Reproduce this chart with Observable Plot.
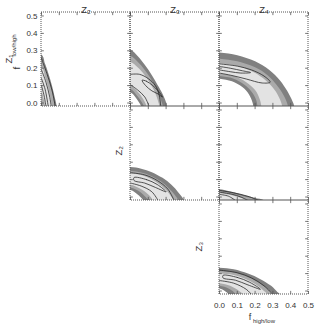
<!DOCTYPE html>
<html><head><meta charset="utf-8">
<script src="https://cdn.jsdelivr.net/npm/d3@7"></script>
<script src="https://cdn.jsdelivr.net/npm/@observablehq/plot@0.6"></script>
<style>body{margin:0;background:#fff}</style>
</head><body><div id="chart"></div>
<script>
// ---- axes / panels ----
const cols = ["Z2","Z3","Z4"];
const rows = ["Z1","Z2","Z3"];
const colTitles = ["Z₂","Z₃","Z₄"];
const xDom = [0, 0.5];
const yDom = [-0.02, 0.52];
const tickVals = [0, 0.1, 0.2, 0.3, 0.4, 0.5];
const tickLabels = ["0.0","0.1","0.2","0.3","0.4","0.5"];
const panels = [["Z2","Z1"],["Z3","Z1"],["Z4","Z1"],["Z3","Z2"],["Z4","Z2"],["Z4","Z3"]];
const bandColors = ["#808080","#aaaaaa","#e3e3e3","#aaaaaa","#808080","#ffffff"];

// ---- contour boundaries (x, y) ----
// panel Z2 x Z1
const A_dark   = [[0,0.278],[0.02,0.225],[0.04,0.165],[0.06,0.095],[0.075,0.03],[0.085,-0.02]];
const A_med    = [[0,0.25],[0.02,0.2],[0.04,0.14],[0.055,0.08],[0.068,0.02],[0.075,-0.02]];
const A_light  = [[0,0.205],[0.02,0.15],[0.04,0.08],[0.05,0.03],[0.058,-0.02]];
const A_lightIn= [[0,0.06],[0.01,0.03],[0.02,-0.02]];
// panel Z3 x Z1
const B_dark   = [[0,0.304],[0.04,0.27],[0.08,0.22],[0.12,0.16],[0.16,0.09],[0.19,0.03],[0.205,-0.02]];
const B_med    = [[0,0.27],[0.04,0.237],[0.08,0.19],[0.12,0.13],[0.15,0.07],[0.172,0.015],[0.182,-0.02]];
const B_light  = [[0,0.235],[0.04,0.205],[0.08,0.16],[0.11,0.115],[0.14,0.055],[0.155,0.01],[0.162,-0.02]];
const B_lightIn= [[0,0.1],[0.04,0.065],[0.07,0.025],[0.09,-0.02]];
const B_medIn  = [[0,0.08],[0.035,0.045],[0.06,0.01],[0.075,-0.02]];
const B_darkIn = [[0,0.06],[0.03,0.03],[0.05,0.0],[0.06,-0.02]];
// panel Z4 x Z1
const C_dark   = [[0,0.29],[0.1,0.275],[0.2,0.24],[0.28,0.19],[0.34,0.13],[0.38,0.07],[0.41,0.01],[0.42,-0.02]];
const C_med    = [[0,0.255],[0.1,0.24],[0.2,0.205],[0.27,0.16],[0.32,0.105],[0.36,0.045],[0.385,-0.02]];
const C_light  = [[0,0.228],[0.1,0.213],[0.19,0.178],[0.26,0.13],[0.31,0.075],[0.34,0.02],[0.352,-0.02]];
const C_lightIn= [[0,0.17],[0.08,0.155],[0.15,0.12],[0.2,0.075],[0.225,0.025],[0.235,-0.02]];
const C_medIn  = [[0,0.155],[0.08,0.14],[0.14,0.105],[0.18,0.065],[0.205,0.02],[0.213,-0.02]];
const C_darkIn = [[0,0.14],[0.07,0.125],[0.13,0.09],[0.165,0.05],[0.185,0.005],[0.19,-0.02]];
// panel Z3 x Z2
const D_dark   = [[0,0.172],[0.06,0.163],[0.12,0.143],[0.18,0.11],[0.23,0.07],[0.27,0.025],[0.3,-0.02]];
const D_med    = [[0,0.15],[0.06,0.141],[0.12,0.12],[0.17,0.09],[0.215,0.05],[0.25,0.01],[0.268,-0.02]];
const D_light  = [[0,0.135],[0.06,0.126],[0.11,0.107],[0.16,0.075],[0.2,0.04],[0.23,0.0],[0.243,-0.02]];
const D_lightIn= [[0,0.07],[0.05,0.05],[0.1,0.015],[0.125,-0.02]];
const D_medIn  = [[0,0.055],[0.05,0.032],[0.085,0.0],[0.1,-0.02]];
const D_darkIn = [[0,0.04],[0.04,0.015],[0.065,-0.01],[0.072,-0.02]];
// panel Z4 x Z2
const E_dark   = [[0,0.045],[0.05,0.035],[0.1,0.022],[0.15,0.008],[0.2,-0.005],[0.25,-0.02]];
const E_med    = [[0,0.035],[0.05,0.026],[0.1,0.013],[0.15,0.0],[0.21,-0.02]];
const E_light  = [[0,0.022],[0.05,0.014],[0.1,0.002],[0.15,-0.02]];
// panel Z4 x Z3
const F_dark   = [[0,0.134],[0.08,0.125],[0.16,0.1],[0.23,0.068],[0.29,0.03],[0.325,-0.005],[0.34,-0.02]];
const F_med    = [[0,0.115],[0.08,0.107],[0.15,0.085],[0.21,0.055],[0.26,0.02],[0.295,-0.01],[0.305,-0.02]];
const F_light  = [[0,0.1],[0.08,0.092],[0.14,0.072],[0.2,0.04],[0.245,0.005],[0.27,-0.02]];
const F_lightIn= [[0,0.045],[0.06,0.03],[0.11,0.0],[0.13,-0.02]];
const F_medIn  = [[0,0.03],[0.05,0.015],[0.08,-0.005],[0.09,-0.02]];
const F_darkIn = [[0,0.015],[0.03,0.0],[0.05,-0.02]];

// contour lines
const A_l1 = [[0,0.255],[0.03,0.17],[0.06,0.07],[0.077,-0.02]];
const A_l2 = [[0,0.19],[0.025,0.12],[0.045,0.04],[0.055,-0.02]];
const A_l3 = [[0,0.14],[0.02,0.08],[0.038,-0.02]];
const A_l4 = [[0,0.1],[0.015,0.04],[0.025,-0.02]];
const B_loop = [[0.065,0.131],[0.09,0.125],[0.125,0.1],[0.155,0.07],[0.18,0.034],[0.155,0.052],[0.12,0.07],[0.085,0.1]];
const B_l1 = [[0,0.165],[0.05,0.165],[0.1,0.14],[0.14,0.1],[0.16,0.05],[0.17,-0.02]];
const B_l2 = [[0,0.105],[0.04,0.075],[0.08,0.035],[0.105,-0.02]];
const C_l1 = [[0,0.225],[0.1,0.212],[0.18,0.19],[0.25,0.155],[0.285,0.12],[0.24,0.115],[0.15,0.138],[0.07,0.158],[0,0.172]];
const C_l2 = [[0,0.21],[0.06,0.2],[0.13,0.185],[0.175,0.175],[0.12,0.172],[0.06,0.18],[0,0.19]];
const D_l1 = [[0,0.14],[0.08,0.127],[0.15,0.095],[0.21,0.045],[0.245,-0.02]];
const D_loop = [[0.02,0.112],[0.09,0.1],[0.15,0.072],[0.2,0.03],[0.14,0.055],[0.08,0.08],[0.02,0.095]];
const D_l2 = [[0,0.08],[0.06,0.063],[0.12,0.03],[0.155,-0.02]];
const E_l1 = [[0,0.038],[0.08,0.024],[0.16,0.004],[0.22,-0.02]];
const E_l2 = [[0,0.028],[0.07,0.016],[0.12,0.0],[0.16,-0.02]];
const E_l3 = [[0,0.015],[0.05,0.005],[0.09,-0.02]];
const F_l1 = [[0,0.12],[0.1,0.105],[0.18,0.075],[0.25,0.03],[0.3,-0.02]];
const F_loop = [[0.02,0.09],[0.1,0.078],[0.17,0.05],[0.23,0.01],[0.16,0.035],[0.09,0.062],[0.02,0.075]];
const F_l2 = [[0,0.06],[0.08,0.045],[0.15,0.01],[0.18,-0.02]];

// ---- tables built from the arrays ----
const fillLayers = [
  ["Z2","Z1",0,A_dark],["Z2","Z1",1,A_med],["Z2","Z1",2,A_light],["Z2","Z1",3,A_lightIn],
  ["Z3","Z1",0,B_dark],["Z3","Z1",1,B_med],["Z3","Z1",2,B_light],["Z3","Z1",3,B_lightIn],["Z3","Z1",4,B_medIn],["Z3","Z1",5,B_darkIn],
  ["Z4","Z1",0,C_dark],["Z4","Z1",1,C_med],["Z4","Z1",2,C_light],["Z4","Z1",3,C_lightIn],["Z4","Z1",4,C_medIn],["Z4","Z1",5,C_darkIn],
  ["Z3","Z2",0,D_dark],["Z3","Z2",1,D_med],["Z3","Z2",2,D_light],["Z3","Z2",3,D_lightIn],["Z3","Z2",4,D_medIn],["Z3","Z2",5,D_darkIn],
  ["Z4","Z2",0,E_dark],["Z4","Z2",1,E_med],["Z4","Z2",2,E_light],
  ["Z4","Z3",0,F_dark],["Z4","Z3",1,F_med],["Z4","Z3",2,F_light],["Z4","Z3",3,F_lightIn],["Z4","Z3",4,F_medIn],["Z4","Z3",5,F_darkIn]
];
const openLines = [
  ["Z2","Z1",A_l1],["Z2","Z1",A_l2],["Z2","Z1",A_l3],["Z2","Z1",A_l4],
  ["Z3","Z1",B_l1],["Z3","Z1",B_l2],["Z4","Z1",C_l1],["Z4","Z1",C_l2],
  ["Z3","Z2",D_l1],["Z3","Z2",D_l2],
  ["Z4","Z2",E_l1],["Z4","Z2",E_l2],["Z4","Z2",E_l3],
  ["Z4","Z3",F_l1],["Z4","Z3",F_l2]
];
const loops = [["Z3","Z1",B_loop],["Z3","Z2",D_loop],["Z4","Z3",F_loop]];

const fillRows = [];
fillLayers.forEach(([c,r,step,pts],i) => {
  const first = pts[0], last = pts[pts.length-1];
  // extend beyond the frame so the clipped region is closed outside the panel
  const ext = [[-0.1, first[1]], ...pts, [last[0], -0.1], [last[0], -0.4], [-0.4, -0.4]];
  ext.forEach(([x,y]) => fillRows.push({x, y, c, r, step, id: i}));
});
const toRows = (list) => {
  const out = [];
  list.forEach(([c,r,pts],i) => pts.forEach(([x,y]) => out.push({x,y,c,r,id:i})));
  return out;
};
const lineRows = toRows(openLines);
const loopRows = toRows(loops);

const panelRows = panels.map(([c,r]) => ({c,r}));
const xTickRows = [], yTickRows = [];
panels.forEach(([c,r]) => tickVals.forEach(v => { xTickRows.push({v,c,r}); yTickRows.push({v,c,r}); }));
const yLabelRows = tickVals.map((v,i) => ({v, t: tickLabels[i], c:"Z2", r:"Z1"}));
const xLabelRows = tickVals.map((v,i) => ({v, t: tickLabels[i], c:"Z4", r:"Z3"}));
const titleRows = cols.map((c,i) => ({c, r:"Z1", t: colTitles[i]}));

const font = "Liberation Sans, Arial, sans-serif";
const txt = "#333";
const tl = 0.018, tlx = 0.016;

const marks = [];
bandColors.forEach((col, s) => {
  marks.push(Plot.line(fillRows.filter(d => d.step === s), {
    x:"x", y:"y", z:"id", fx:"c", fy:"r", fill: col, stroke:"none", curve:"catmull-rom", clip:true
  }));
});
marks.push(
  Plot.line(lineRows, {x:"x", y:"y", z:"id", fx:"c", fy:"r", stroke:"#2b2b2b", strokeWidth:0.8, curve:"catmull-rom", clip:true}),
  Plot.line(loopRows, {x:"x", y:"y", z:"id", fx:"c", fy:"r", stroke:"#2b2b2b", strokeWidth:0.8, curve:"catmull-rom-closed", clip:true}),
  Plot.rect(panelRows, {x1:xDom[0], x2:xDom[1], y1:yDom[0], y2:yDom[1], fx:"c", fy:"r", fill:"none", stroke:"#555", strokeWidth:1, strokeDasharray:"1,1"}),
  Plot.ruleX(xTickRows, {x:"v", y1:yDom[0], y2:yDom[0]+tl, fx:"c", fy:"r", stroke:"#555", strokeWidth:0.8}),
  Plot.ruleX(xTickRows, {x:"v", y1:yDom[1], y2:yDom[1]-tl, fx:"c", fy:"r", stroke:"#555", strokeWidth:0.8}),
  Plot.ruleY(yTickRows, {y:"v", x1:xDom[0], x2:xDom[0]+tlx, fx:"c", fy:"r", stroke:"#555", strokeWidth:0.8}),
  Plot.ruleY(yTickRows, {y:"v", x1:xDom[1], x2:xDom[1]-tlx, fx:"c", fy:"r", stroke:"#555", strokeWidth:0.8}),
  Plot.text(yLabelRows, {x:xDom[0], y:"v", text:"t", fx:"c", fy:"r", textAnchor:"end", dx:-4, fontSize:8, fontFamily:font, fill:txt}),
  Plot.text(xLabelRows, {x:"v", y:yDom[0], text:"t", fx:"c", fy:"r", dy:11, fontSize:8, fontFamily:font, fill:txt}),
  Plot.text(titleRows, {text:"t", fx:"c", fy:"r", frameAnchor:"top", dy:-6, fontSize:9.5, fontFamily:font, fill:txt}),
  // row labels
  Plot.text([{c:"Z2", r:"Z1", t:"Z₁"}], {text:"t", fx:"c", fy:"r", frameAnchor:"left", dx:-33, dy:4, rotate:-90, fontSize:9.5, fontFamily:font, fill:txt}),
  Plot.text([{c:"Z2", r:"Z1", t:"f"}], {text:"t", fx:"c", fy:"r", frameAnchor:"left", dx:-25, dy:10, rotate:-90, fontSize:9.5, fontFamily:font, fill:txt}),
  Plot.text([{c:"Z2", r:"Z1", t:"low/high"}], {text:"t", fx:"c", fy:"r", frameAnchor:"left", dx:-27.5, dy:-3, rotate:-90, fontSize:6, fontFamily:font, fill:txt}),
  Plot.text([{c:"Z3", r:"Z2", t:"Z₂"}], {text:"t", fx:"c", fy:"r", frameAnchor:"left", dx:-12, dy:2, rotate:-90, fontSize:9.5, fontFamily:font, fill:txt}),
  Plot.text([{c:"Z4", r:"Z3", t:"Z₃"}], {text:"t", fx:"c", fy:"r", frameAnchor:"left", dx:-21, dy:4, rotate:-90, fontSize:9.5, fontFamily:font, fill:txt}),
  Plot.text([{c:"Z4", r:"Z3", t:"f"}], {text:"t", fx:"c", fy:"r", frameAnchor:"bottom", dx:-14, dy:25, fontSize:9, fontFamily:font, fill:txt}),
  Plot.text([{c:"Z4", r:"Z3", t:"high/low"}], {text:"t", fx:"c", fy:"r", frameAnchor:"bottom", textAnchor:"start", dx:-11, dy:28.5, fontSize:6, fontFamily:font, fill:txt})
);

const chart = Plot.plot({
  width: 316, height: 326,
  marginLeft: 40, marginRight: 8, marginTop: 11, marginBottom: 32,
  x: {domain: xDom, axis: null},
  y: {domain: yDom, axis: null},
  fx: {domain: cols, padding: 0, axis: null},
  fy: {domain: rows, padding: 0, axis: null},
  style: {background: "#fff"},
  marks
});
document.getElementById("chart").appendChild(chart);
</script>
</body></html>
